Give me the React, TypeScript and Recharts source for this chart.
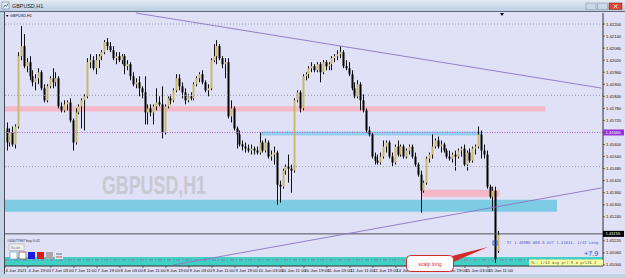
import React from 'react';
import { ComposedChart, Bar, XAxis, YAxis, ReferenceLine, ReferenceArea } from 'recharts';

// GBPUSD H1, 4 Jun 11:00 -> 15 Jun 14:00 (one entry per bar)
const OPEN = [
  1.4168, 1.4161, 1.4166, 1.4160, 1.4169, 1.4204, 1.4209, 1.4199, 1.4201, 1.4194, 1.4191, 1.4193, 1.4196, 1.4188, 1.4182, 1.4189,
  1.4193, 1.4191, 1.4193, 1.4179, 1.4177, 1.4180, 1.4181, 1.4172, 1.4161, 1.4176, 1.4179, 1.4182, 1.4184, 1.4201, 1.4202, 1.4198,
  1.4202, 1.4204, 1.4206, 1.4211, 1.4209, 1.4207, 1.4203, 1.4204, 1.4202, 1.4204, 1.4199, 1.4200, 1.4194, 1.4190, 1.4191, 1.4188,
  1.4186, 1.4176, 1.4178, 1.4176, 1.4179, 1.4181, 1.4180, 1.4166, 1.4179, 1.4183, 1.4182, 1.4187, 1.4193, 1.4189, 1.4186, 1.4182,
  1.4184, 1.4183, 1.4190, 1.4193, 1.4195, 1.4191, 1.4187, 1.4188, 1.4202, 1.4204, 1.4209, 1.4203, 1.4200, 1.4201, 1.4174, 1.4178,
  1.4168, 1.4165, 1.4160, 1.4159, 1.4158, 1.4157, 1.4158, 1.4157, 1.4156, 1.4161, 1.4157, 1.4161, 1.4154, 1.4155, 1.4156, 1.4140,
  1.4139, 1.4147, 1.4149, 1.4148, 1.4147, 1.4182, 1.4186, 1.4178, 1.4194, 1.4195, 1.4198, 1.4199, 1.4197, 1.4200, 1.4196, 1.4201,
  1.4199, 1.4200, 1.4203, 1.4204, 1.4205, 1.4206, 1.4199, 1.4198, 1.4195, 1.4188, 1.4184, 1.4190, 1.4182, 1.4177, 1.4167, 1.4165,
  1.4154, 1.4152, 1.4151, 1.4154, 1.4159, 1.4161, 1.4154, 1.4151, 1.4159, 1.4155, 1.4159, 1.4154, 1.4157, 1.4159, 1.4154, 1.4150,
  1.4145, 1.4137, 1.4141, 1.4153, 1.4155, 1.4159, 1.4162, 1.4159, 1.4160, 1.4157, 1.4154, 1.4153, 1.4155, 1.4154, 1.4157, 1.4158,
  1.4150, 1.4156, 1.4152, 1.4158, 1.4159, 1.4165, 1.4157, 1.4155, 1.4139, 1.4134, 1.4137, 1.4107,
];
const HIGH = [
  1.4171, 1.4168, 1.4169, 1.4170, 1.4206, 1.4219, 1.4215, 1.4203, 1.4204, 1.4197, 1.4195, 1.4198, 1.4197, 1.4190, 1.4190, 1.4194,
  1.4198, 1.4196, 1.4194, 1.4181, 1.4182, 1.4182, 1.4183, 1.4173, 1.4178, 1.4180, 1.4183, 1.4185, 1.4203, 1.4205, 1.4204, 1.4205,
  1.4205, 1.4207, 1.4212, 1.4213, 1.4211, 1.4209, 1.4206, 1.4206, 1.4205, 1.4205, 1.4202, 1.4201, 1.4196, 1.4193, 1.4194, 1.4189,
  1.4194, 1.4180, 1.4180, 1.4180, 1.4188, 1.4184, 1.4189, 1.4180, 1.4184, 1.4185, 1.4188, 1.4195, 1.4195, 1.4191, 1.4188, 1.4185,
  1.4186, 1.4191, 1.4194, 1.4196, 1.4197, 1.4192, 1.4190, 1.4203, 1.4210, 1.4212, 1.4210, 1.4204, 1.4203, 1.4203, 1.4182, 1.4179,
  1.4169, 1.4167, 1.4162, 1.4161, 1.4160, 1.4160, 1.4159, 1.4159, 1.4166, 1.4162, 1.4163, 1.4162, 1.4157, 1.4159, 1.4157, 1.4142,
  1.4148, 1.4150, 1.4155, 1.4150, 1.4183, 1.4187, 1.4187, 1.4195, 1.4196, 1.4199, 1.4201, 1.4200, 1.4201, 1.4201, 1.4202, 1.4202,
  1.4201, 1.4204, 1.4205, 1.4207, 1.4209, 1.4207, 1.4202, 1.4201, 1.4197, 1.4191, 1.4192, 1.4191, 1.4185, 1.4178, 1.4169, 1.4166,
  1.4156, 1.4155, 1.4156, 1.4162, 1.4162, 1.4162, 1.4156, 1.4160, 1.4162, 1.4160, 1.4160, 1.4158, 1.4160, 1.4160, 1.4156, 1.4151,
  1.4147, 1.4142, 1.4154, 1.4156, 1.4165, 1.4163, 1.4164, 1.4162, 1.4161, 1.4158, 1.4157, 1.4156, 1.4157, 1.4158, 1.4159, 1.4160,
  1.4157, 1.4158, 1.4159, 1.4160, 1.4169, 1.4167, 1.4160, 1.4157, 1.4140, 1.4139, 1.4139, 1.4117,
];
const LOW = [
  1.4157, 1.4159, 1.4159, 1.4158, 1.4168, 1.4202, 1.4198, 1.4196, 1.4192, 1.4189, 1.4187, 1.4190, 1.4187, 1.4181, 1.4181, 1.4188,
  1.4188, 1.4189, 1.4178, 1.4176, 1.4176, 1.4177, 1.4171, 1.4157, 1.4160, 1.4175, 1.4168, 1.4167, 1.4183, 1.4198, 1.4197, 1.4195,
  1.4198, 1.4202, 1.4205, 1.4207, 1.4206, 1.4202, 1.4200, 1.4201, 1.4200, 1.4195, 1.4197, 1.4192, 1.4189, 1.4188, 1.4184, 1.4183,
  1.4170, 1.4170, 1.4174, 1.4170, 1.4177, 1.4179, 1.4163, 1.4165, 1.4178, 1.4180, 1.4181, 1.4186, 1.4187, 1.4183, 1.4180, 1.4181,
  1.4182, 1.4182, 1.4189, 1.4191, 1.4190, 1.4186, 1.4184, 1.4187, 1.4201, 1.4200, 1.4202, 1.4198, 1.4193, 1.4173, 1.4171, 1.4167,
  1.4158, 1.4159, 1.4157, 1.4156, 1.4156, 1.4155, 1.4155, 1.4155, 1.4155, 1.4156, 1.4156, 1.4153, 1.4152, 1.4150, 1.4130, 1.4131,
  1.4138, 1.4145, 1.4141, 1.4136, 1.4146, 1.4181, 1.4176, 1.4177, 1.4192, 1.4193, 1.4196, 1.4196, 1.4196, 1.4191, 1.4195, 1.4197,
  1.4197, 1.4197, 1.4201, 1.4202, 1.4203, 1.4198, 1.4197, 1.4194, 1.4187, 1.4183, 1.4183, 1.4177, 1.4176, 1.4166, 1.4164, 1.4153,
  1.4150, 1.4150, 1.4150, 1.4153, 1.4156, 1.4153, 1.4149, 1.4150, 1.4154, 1.4154, 1.4153, 1.4153, 1.4155, 1.4153, 1.4149, 1.4144,
  1.4126, 1.4136, 1.4140, 1.4151, 1.4153, 1.4158, 1.4158, 1.4156, 1.4156, 1.4153, 1.4152, 1.4151, 1.4147, 1.4153, 1.4154, 1.4149,
  1.4147, 1.4151, 1.4151, 1.4155, 1.4158, 1.4153, 1.4153, 1.4138, 1.4133, 1.4127, 1.4101, 1.4106,
];
const CLOSE = [
  1.4161, 1.4166, 1.4160, 1.4169, 1.4204, 1.4209, 1.4199, 1.4201, 1.4194, 1.4191, 1.4193, 1.4196, 1.4188, 1.4182, 1.4189, 1.4193,
  1.4191, 1.4193, 1.4179, 1.4177, 1.4180, 1.4181, 1.4172, 1.4161, 1.4176, 1.4179, 1.4182, 1.4184, 1.4201, 1.4202, 1.4198, 1.4202,
  1.4204, 1.4206, 1.4211, 1.4209, 1.4207, 1.4203, 1.4204, 1.4202, 1.4204, 1.4199, 1.4200, 1.4194, 1.4190, 1.4191, 1.4188, 1.4186,
  1.4176, 1.4178, 1.4176, 1.4179, 1.4181, 1.4180, 1.4166, 1.4179, 1.4183, 1.4182, 1.4187, 1.4193, 1.4189, 1.4186, 1.4182, 1.4184,
  1.4183, 1.4190, 1.4193, 1.4195, 1.4191, 1.4187, 1.4188, 1.4202, 1.4204, 1.4209, 1.4203, 1.4200, 1.4201, 1.4174, 1.4178, 1.4168,
  1.4165, 1.4160, 1.4159, 1.4158, 1.4157, 1.4158, 1.4157, 1.4156, 1.4161, 1.4157, 1.4161, 1.4154, 1.4155, 1.4156, 1.4140, 1.4139,
  1.4147, 1.4149, 1.4148, 1.4147, 1.4182, 1.4186, 1.4178, 1.4194, 1.4195, 1.4198, 1.4199, 1.4197, 1.4200, 1.4196, 1.4201, 1.4199,
  1.4200, 1.4203, 1.4204, 1.4205, 1.4206, 1.4199, 1.4198, 1.4195, 1.4188, 1.4184, 1.4190, 1.4182, 1.4177, 1.4167, 1.4165, 1.4154,
  1.4152, 1.4151, 1.4154, 1.4159, 1.4161, 1.4154, 1.4151, 1.4159, 1.4155, 1.4159, 1.4154, 1.4157, 1.4159, 1.4154, 1.4150, 1.4145,
  1.4137, 1.4141, 1.4153, 1.4155, 1.4159, 1.4162, 1.4159, 1.4160, 1.4157, 1.4154, 1.4153, 1.4155, 1.4154, 1.4157, 1.4158, 1.4150,
  1.4156, 1.4152, 1.4158, 1.4159, 1.4165, 1.4157, 1.4155, 1.4139, 1.4134, 1.4137, 1.4103, 1.4115,
];

const TIME_TICKS = [0, 8, 16, 24, 32, 40, 48, 56, 64, 72, 80, 88, 96, 104, 112, 120, 128, 136, 144, 152, 160, 168];
const TIME_LABELS = [
  '4 Jun 2021', '4 Jun 19:00', '7 Jun 03:00', '7 Jun 11:00', '7 Jun 19:00', '8 Jun 03:00', '8 Jun 11:00', '8 Jun 19:00',
  '9 Jun 03:00', '9 Jun 11:00', '9 Jun 19:00', '10 Jun 03:00', '10 Jun 11:00', '10 Jun 19:00', '11 Jun 03:00', '11 Jun 11:00',
  '11 Jun 19:00', '14 Jun 03:00', '14 Jun 11:00', '14 Jun 19:00', '15 Jun 03:00', '15 Jun 11:00',
];

const PRICE_TICKS = [
  1.422, 1.4214, 1.4208, 1.4202, 1.4196, 1.419, 1.4184, 1.4178, 1.4172, 1.4166, 1.416,
  1.4154, 1.4148, 1.4142, 1.4136, 1.413, 1.4124, 1.4118, 1.4112, 1.4106, 1.41,
];
const PRICE_DOMAIN = [1.40995, 1.42255];

// price tags on the axis: magenta level + current bid
const LEVEL_PRICE = 1.4166;
const BID_PRICE = 1.41155;
const ORDER_PRICE = 1.41025;
const DOTTED_LEVELS = [1.422, 1.41845, 1.4149];

// zones: [bottom, top, fromBar, toBar]
const PINK_ZONE = [1.41765, 1.4179, 0, 187];
const BLUE_ZONE = [1.41645, 1.41665, 89, 165];
const SKY_ZONE = [1.41265, 1.41325, 0, 191];
const PINK_SMALL = [1.4134, 1.41375, 145, 171];
const TEAL_ZONE = [1.40995, 1.4104];

const TREND_DOWN = [{ x: 45, y: 1.42255 }, { x: 207, y: 1.41881 }];
const TREND_UP = [{ x: 58, y: 1.41 }, { x: 207, y: 1.41384 }];

const SLOTS = 208;
const data = Array.from({ length: SLOTS }, (_, i) =>
  i < OPEN.length ? { i, o: OPEN[i], h: HIGH[i], l: LOW[i], c: CLOSE[i] } : { i }
);

const candleRange = (d: any) => (d.h == null ? null : [d.l, d.h]);

const Candle = (props: any) => {
  const { x, y, width, height, payload } = props;
  if (!payload || payload.h == null) return null;
  const cx = Math.round(x + width / 2) + 0.5;
  const k = payload.h === payload.l ? 0 : height / (payload.h - payload.l);
  const top = y + (payload.h - Math.max(payload.o, payload.c)) * k;
  const bot = y + (payload.h - Math.min(payload.o, payload.c)) * k;
  const up = payload.c >= payload.o;
  return (
    <g>
      <line x1={cx} x2={cx} y1={y} y2={y + height} stroke="#111" strokeWidth={1} />
      <rect x={cx - 1} y={top} width={2} height={Math.max(bot - top, 1)} fill={up ? '#c9b968' : '#000'} />
    </g>
  );
};

const TAGS = [
  { value: LEVEL_PRICE, bg: '#9b30d9' },
  { value: BID_PRICE, bg: '#000' },
];
const Y_TICKS = PRICE_TICKS.filter((v) => !TAGS.some((t) => Math.abs(t.value - v) < 0.0003)).concat(
  TAGS.map((t) => t.value)
);

const PriceTick = (props: any) => {
  const { x, y, payload } = props;
  const v = payload.value;
  const tag = TAGS.find((t) => Math.abs(t.value - v) < 1e-7);
  if (tag) {
    return (
      <g>
        <rect x={x} y={y - 3} width={21} height={6} fill={tag.bg} />
        <text x={x + 2.5} y={y + 1.5} fontSize={4.2} fill="#fff" fontFamily="Liberation Sans">
          {v.toFixed(5)}
        </text>
      </g>
    );
  }
  return (
    <g>
      <line x1={x} x2={x + 2} y1={y} y2={y} stroke="#222" strokeWidth={0.6} />
      <text x={x + 3} y={y + 1.5} fontSize={4.2} fill="#111" fontFamily="Liberation Sans">
        {v.toFixed(5)}
      </text>
    </g>
  );
};

const TimeTick = (props: any) => {
  const { x, y, payload } = props;
  const idx = TIME_TICKS.indexOf(payload.value);
  if (idx < 0) return null;
  const tx = x - 1.5;
  return (
    <g>
      <line x1={tx} x2={tx} y1={y} y2={y + 2} stroke="#222" strokeWidth={0.6} />
      <text x={tx + 0.5} y={y + 6} fontSize={4.3} fill="#111" fontFamily="Liberation Sans">
        {TIME_LABELS[idx]}
      </text>
    </g>
  );
};

const SMALL = { fontFamily: 'DejaVu Sans Mono' };

export default function App() {
  return (
    <div style={{ position: 'relative', width: 625, height: 278, overflow: 'hidden', background: '#c3d3e6' }}>
      <style>{'body{margin:0}'}</style>
      {/* window title bar */}
      <div
        style={{
          position: 'absolute', left: 0, top: 0, width: 625, height: 11,
          background: 'linear-gradient(#e3ebf4, #bccde0)', borderBottom: '1px solid #5c6a7c',
        }}
      />
      {/* chart background */}
      <div
        style={{
          position: 'absolute', left: 4, top: 12, width: 620, height: 262,
          background: '#e0e0f6', borderLeft: '1px solid #4a4a55',
        }}
      />
      <svg width={625} height={278} style={{ position: 'absolute', left: 0, top: 0 }}>
        <text x={102} y={194} fontSize={25} fontWeight="bold" fill="#c8c8d3" fontFamily="Liberation Sans"
          textLength={104} lengthAdjust="spacingAndGlyphs">GBPUSD,H1</text>
      </svg>

      <ComposedChart
        width={625}
        height={278}
        data={data}
        margin={{ top: 13, right: 0, left: 5, bottom: 4 }}
        barCategoryGap={0}
        style={{ position: 'absolute', left: 0, top: 0 }}
      >
        <XAxis dataKey="i" type="category" ticks={TIME_TICKS} interval={0} height={8} tickSize={0} tickMargin={0}
          tick={<TimeTick />} tickLine={false} axisLine={{ stroke: '#333' }} />
        <YAxis orientation="right" type="number" domain={PRICE_DOMAIN} allowDataOverflow ticks={Y_TICKS} interval={0}
          width={22} tickSize={0} tickMargin={0} tick={<PriceTick />} tickLine={false} axisLine={{ stroke: '#333' }} />

        <ReferenceArea y1={TEAL_ZONE[0]} y2={TEAL_ZONE[1]} fill="#40d0c4" fillOpacity={1} stroke="none" ifOverflow="visible" />
        <ReferenceArea x1={PINK_ZONE[2]} x2={PINK_ZONE[3]} y1={PINK_ZONE[0]} y2={PINK_ZONE[1]} fill="#f5b8c9" fillOpacity={1} stroke="none" />
        <ReferenceArea x1={SKY_ZONE[2]} x2={SKY_ZONE[3]} y1={SKY_ZONE[0]} y2={SKY_ZONE[1]} fill="#7ecbe4" fillOpacity={1} stroke="none" />
        <ReferenceArea x1={BLUE_ZONE[2]} x2={BLUE_ZONE[3]} y1={BLUE_ZONE[0]} y2={BLUE_ZONE[1]} fill="#96cdec" fillOpacity={1} stroke="none" />
        <ReferenceArea x1={PINK_SMALL[2]} x2={PINK_SMALL[3]} y1={PINK_SMALL[0]} y2={PINK_SMALL[1]} fill="#f5b6c6" fillOpacity={1} stroke="none" />

        {DOTTED_LEVELS.map((v) => (
          <ReferenceLine key={v} y={v} stroke="#9c9cae" strokeDasharray="1 2" ifOverflow="visible" />
        ))}
        <ReferenceLine y={LEVEL_PRICE} stroke="#b060d0" strokeDasharray="1 1.5" />
        <ReferenceLine y={BID_PRICE} stroke="#505058" />
        <ReferenceLine y={ORDER_PRICE} stroke="#9070b8" strokeDasharray="4 2 1 2" />

        <Bar dataKey={candleRange} shape={<Candle />} isAnimationActive={false} />

        <ReferenceLine segment={TREND_DOWN} stroke="#8e74c0" strokeWidth={0.9} ifOverflow="visible" />
        <ReferenceLine segment={TREND_UP} stroke="#8e74c0" strokeWidth={0.9} ifOverflow="visible" />
      </ComposedChart>

      <svg width={625} height={278} style={{ position: 'absolute', left: 0, top: 0, pointerEvents: 'none' }}>
        {/* title bar */}
        <rect x={2} y={2} width={7} height={7} fill="#eef3f8" stroke="#6a7d96" strokeWidth={0.6} />
        <path d="M3.5 7.5 L5 5 L6.5 6.5 L8 3.5" stroke="#2c5fb0" strokeWidth={0.8} fill="none" />
        <text x={12} y={8} fontSize={5.4} fill="#222" fontFamily="Liberation Sans">GBPUSD,H1</text>
        <rect x={586} y={3} width={10} height={6.5} fill="#cdd8e6" stroke="#8596ad" strokeWidth={0.6} />
        <rect x={597.5} y={3} width={10} height={6.5} fill="#cdd8e6" stroke="#8596ad" strokeWidth={0.6} />
        <rect x={609} y={3} width={13} height={6.5} fill="#d9452f" stroke="#9a2a1a" strokeWidth={0.6} />
        <path d="M613.5 4.5 L617.5 8 M617.5 4.5 L613.5 8" stroke="#fff" strokeWidth={0.9} />
        {/* chart label */}
        <path d="M6 15 L8.5 15 L7.25 17 Z" fill="#000" />
        <text x={10} y={17.3} fontSize={3.8} fill="#111" fontFamily="Liberation Sans">GBPUSD,H1</text>
        {/* chart shift marker */}
        <path d="M500 13 L504 13 L502 16 Z" fill="#000" />
        {/* order line label + panel */}
        <text x={7} y={242.3} fontSize={3.6} fill="#333" fontFamily="Liberation Sans">#40677987 buy 0.02</text>
        <rect x={9} y={244} width={15} height={6.5} fill="#f2f2f2" stroke="#9a9a9a" strokeWidth={0.5} />
        <text x={10.8} y={248.6} fontSize={3.8} fill="#777" fontFamily="Liberation Sans">Scale</text>
        <rect x={10} y={252} width={7} height={7} fill="#fff" stroke="#6aa8d8" strokeWidth={0.8} />
        <rect x={19} y={252} width={7} height={7} fill="#fff" stroke="#8a5a3a" strokeWidth={0.8} />
        <rect x={28} y={252} width={7} height={7} fill="#1a1ae0" />
        <rect x={37} y={252} width={7} height={7} fill="#e01818" />
        <rect x={46} y={252} width={7} height={7} fill="#a8a8a8" />
        <rect x={55} y={252} width={8} height={7} fill="#e8e8f0" />
        <line x1={56} x2={62} y1={254} y2={254} stroke="#2040c0" strokeWidth={0.8} />
        <line x1={56} x2={62} y1={257} y2={257} stroke="#c02020" strokeWidth={0.8} />
        {/* order marker and trade info */}
        <rect x={493} y={241} width={4} height={4} fill="none" stroke="#2050e0" strokeWidth={0.8} />
        <text x={507} y={244} fontSize={3.9} fill="#5060c0" style={SMALL}>ST 1.40980 000.0  AVT 1.41041, 1/42 Long</text>
        <text x={584} y={256} fontSize={7.2} fill="#2a48d8" fontFamily="Liberation Sans">+7.9</text>
        <rect x={529} y={259.5} width={74} height={6} fill="#ffffa4" />
        <text x={531} y={264} fontSize={3.9} fill="#5a5a30" style={SMALL}>SL: 1/42 avg pr7.9 a pr126.2</text>
        {/* callout */}
        <path d="M446 257.5 L453 262 L488 247 Z" fill="#d42a2a" />
        <rect x={406.5} y={255.5} width={47} height={16} rx={4} fill="#fff" stroke="#d42a2a" strokeWidth={1} />
        <text x={430} y={265.5} fontSize={5.2} fill="#d42a2a" textAnchor="middle" fontFamily="Liberation Sans">scalp long</text>
      </svg>
    </div>
  );
}
